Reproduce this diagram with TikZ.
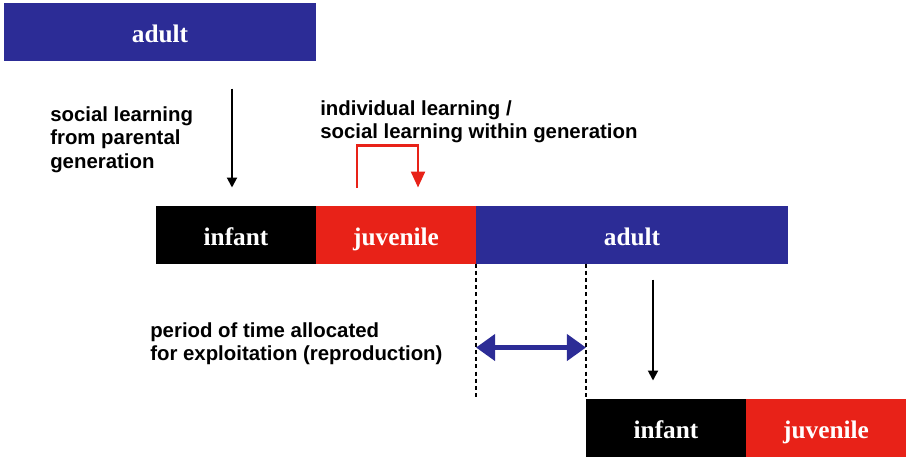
\documentclass[tikz,border=0pt]{standalone}
\usepackage{fontspec}
\setmainfont{Liberation Serif}
\setsansfont{Liberation Sans}
\usetikzlibrary{positioning, arrows.meta}
\definecolor{adultblue}{RGB}{44,44,150}
\definecolor{juvred}{RGB}{232,34,24}
\tikzstyle{stage} = [rectangle, minimum height=14.5mm, inner sep=0pt, outer sep=0pt, text centered, text height=16pt, text depth=1pt, text=white, font=\fontsize{18}{20}\selectfont\bfseries]
\tikzstyle{infant} = [stage, minimum width=40mm, fill=black]
\tikzstyle{juvenile} = [stage, minimum width=40mm, fill=juvred]
\tikzstyle{adult} = [stage, minimum width=78mm, fill=adultblue]
\tikzstyle{note} = [anchor=north west, align=left, inner sep=0pt, font=\sffamily\bfseries\fontsize{14.5}{17}\selectfont]
\tikzstyle{learnarrow} = [line width=1.4pt, -{Triangle[length=2.5mm, width=2.5mm]}]
\tikzstyle{withinarrow} = [juvred, line width=1.6pt, -{Triangle[length=4mm, width=3.5mm]}]
\tikzstyle{periodarrow} = [adultblue, line width=1.4mm, {Triangle[length=4.8mm, width=6.5mm]}-{Triangle[length=4.8mm, width=6.5mm]}]
\tikzstyle{bound} = [line width=1.2pt, dash pattern=on 1mm off 0.8mm]

\begin{document}
\begin{tikzpicture}[x=0.25mm, y=-0.25mm]
        \useasboundingbox (0,0) rectangle (906,460);
        % generation 0
        \node (adult0) [adult] at (160,31.5) {adult};
        % generation 1
        \node (inf1) [infant] at (236,234.5) {infant};
        \node (juv1) [juvenile, right=0pt of inf1] {juvenile};
        \node (adult1) [adult, right=0pt of juv1] {adult};
        % generation 2
        \node (inf2) [infant] at (666,427.5) {infant};
        \node (juv2) [juvenile, right=0pt of inf2] {juvenile};

        \node (social) [note] at (50,106) {social learning\\from parental\\generation};
        \node (individual) [note] at (320,100) {individual learning /\\social learning within generation};
        \node (period) [note] at (150,322) {period of time allocated\\for exploitation (reproduction)};

        \draw[learnarrow] ([xshift=-1mm, yshift=-7mm]inf1.north |- adult0.south) -- ([xshift=-1mm, yshift=4.5mm]inf1.north);
        \draw[withinarrow] ([xshift=-9.75mm, yshift=4.5mm]juv1.north) -- ++(0,-42) -| ([xshift=5.5mm, yshift=4.5mm]juv1.north);
        \draw[learnarrow] ([xshift=-3.25mm, yshift=-4mm]inf2.north |- adult1.south) -- ([xshift=-3.25mm, yshift=4.5mm]inf2.north);
        \draw[bound] (adult1.south west) -- (adult1.south west |- inf2.north);
        \draw[bound] (inf2.north west |- adult1.south) -- (inf2.north west);
        \draw[periodarrow] ([yshift=-21mm]adult1.south west) -- ([yshift=-21mm]adult1.south west -| inf2.north west);
\end{tikzpicture}
\end{document}
